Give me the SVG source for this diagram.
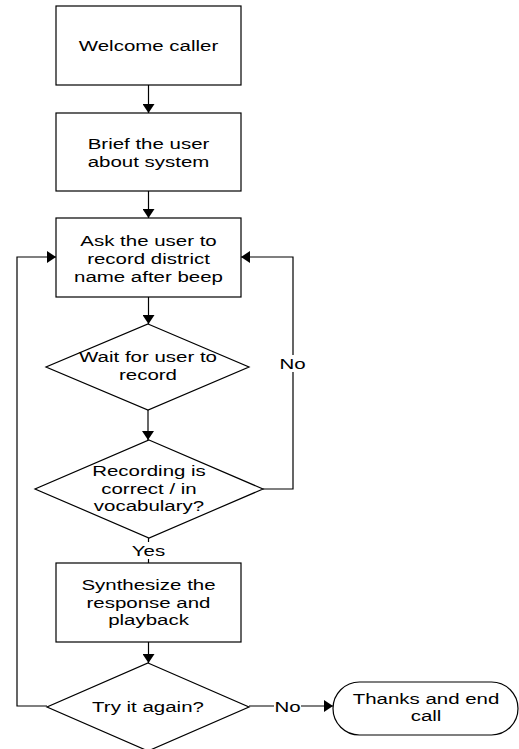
<svg xmlns="http://www.w3.org/2000/svg" width="519" height="749" viewBox="0 0 519 749">
<style>
.s{fill:#fff;stroke:#000;stroke-width:1.2}
.c{fill:none;stroke:#000;stroke-width:1.2}
.t{font-family:"Liberation Sans",Arial,sans-serif;font-size:15.5px;text-anchor:middle;fill:#000}
</style>
<defs>
<marker id="ah" markerWidth="10" markerHeight="12" refX="9" refY="6" orient="auto" markerUnits="userSpaceOnUse">
<path d="M0,0 L9,6 L0,12 Z" fill="#000"/>
</marker>
</defs>
<rect width="519" height="749" fill="#fff"/>
<g id="connectors">
<line class="c" x1="148.5" y1="85" x2="148.5" y2="113" marker-end="url(#ah)"/>
<line class="c" x1="148.5" y1="191" x2="148.5" y2="218" marker-end="url(#ah)"/>
<line class="c" x1="148.5" y1="297" x2="148.5" y2="324" marker-end="url(#ah)"/>
<line class="c" x1="148" y1="410" x2="148" y2="440" marker-end="url(#ah)"/>
<polyline class="c" points="263,489 293,489 293,257 241,257" marker-end="url(#ah)"/>
<line class="c" x1="148.5" y1="538" x2="148.5" y2="563"/>
<line class="c" x1="148.5" y1="642" x2="148.5" y2="663" marker-end="url(#ah)"/>
<polyline class="c" points="47,706 17,706 17,257 56,257" marker-end="url(#ah)"/>
<line class="c" x1="249" y1="706" x2="333" y2="706" marker-end="url(#ah)"/>
<rect x="279" y="355" width="27" height="17" fill="#fff"/>
<text class="t" transform="translate(292.5,369) scale(1.32,1)">No</text>
<rect x="131" y="542" width="36" height="17" fill="#fff"/>
<text class="t" transform="translate(148.5,556) scale(1.32,1)">Yes</text>
<rect x="274" y="698" width="27" height="17" fill="#fff"/>
<text class="t" transform="translate(287.5,712) scale(1.32,1)">No</text>
</g>
<g id="welcome">
<rect class="s" x="56" y="6" width="185" height="79"/>
<text class="t" transform="translate(148.5,51) scale(1.32,1)">Welcome caller</text>
</g>
<g id="brief">
<rect class="s" x="56" y="113" width="185" height="78"/>
<text class="t" transform="translate(148.5,148.5) scale(1.32,1)">Brief the user</text>
<text class="t" transform="translate(148.5,166.5) scale(1.32,1)">about system</text>
</g>
<g id="ask">
<rect class="s" x="56" y="218" width="185" height="79"/>
<text class="t" transform="translate(148.5,246) scale(1.32,1)">Ask the user to</text>
<text class="t" transform="translate(148.5,264) scale(1.32,1)">record district</text>
<text class="t" transform="translate(148.5,282) scale(1.32,1)">name after beep</text>
</g>
<g id="wait">
<polygon class="s" points="148,324 249,367 148,410 46,367"/>
<text class="t" transform="translate(148,362) scale(1.32,1)">Wait for user to</text>
<text class="t" transform="translate(148,380) scale(1.32,1)">record</text>
</g>
<g id="check">
<polygon class="s" points="149,440 263,489 149,538 35,489"/>
<text class="t" transform="translate(149,476) scale(1.32,1)">Recording is</text>
<text class="t" transform="translate(149,494) scale(1.32,1)">correct / in</text>
<text class="t" transform="translate(149,511) scale(1.32,1)">vocabulary?</text>
</g>
<g id="synth">
<rect class="s" x="56" y="563" width="185" height="79"/>
<text class="t" transform="translate(148.5,590) scale(1.32,1)">Synthesize the</text>
<text class="t" transform="translate(148.5,607.5) scale(1.32,1)">response and</text>
<text class="t" transform="translate(148.5,625) scale(1.32,1)">playback</text>
</g>
<g id="again">
<polygon class="s" points="148,663 249,707 148,751 47,707"/>
<text class="t" transform="translate(148,712) scale(1.32,1)">Try it again?</text>
</g>
<g id="end">
<rect class="s" x="333" y="682" width="185" height="53" rx="26.5" ry="26.5"/>
<text class="t" transform="translate(426,704) scale(1.32,1)">Thanks and end</text>
<text class="t" transform="translate(426,721) scale(1.32,1)">call</text>
</g>
</svg>
